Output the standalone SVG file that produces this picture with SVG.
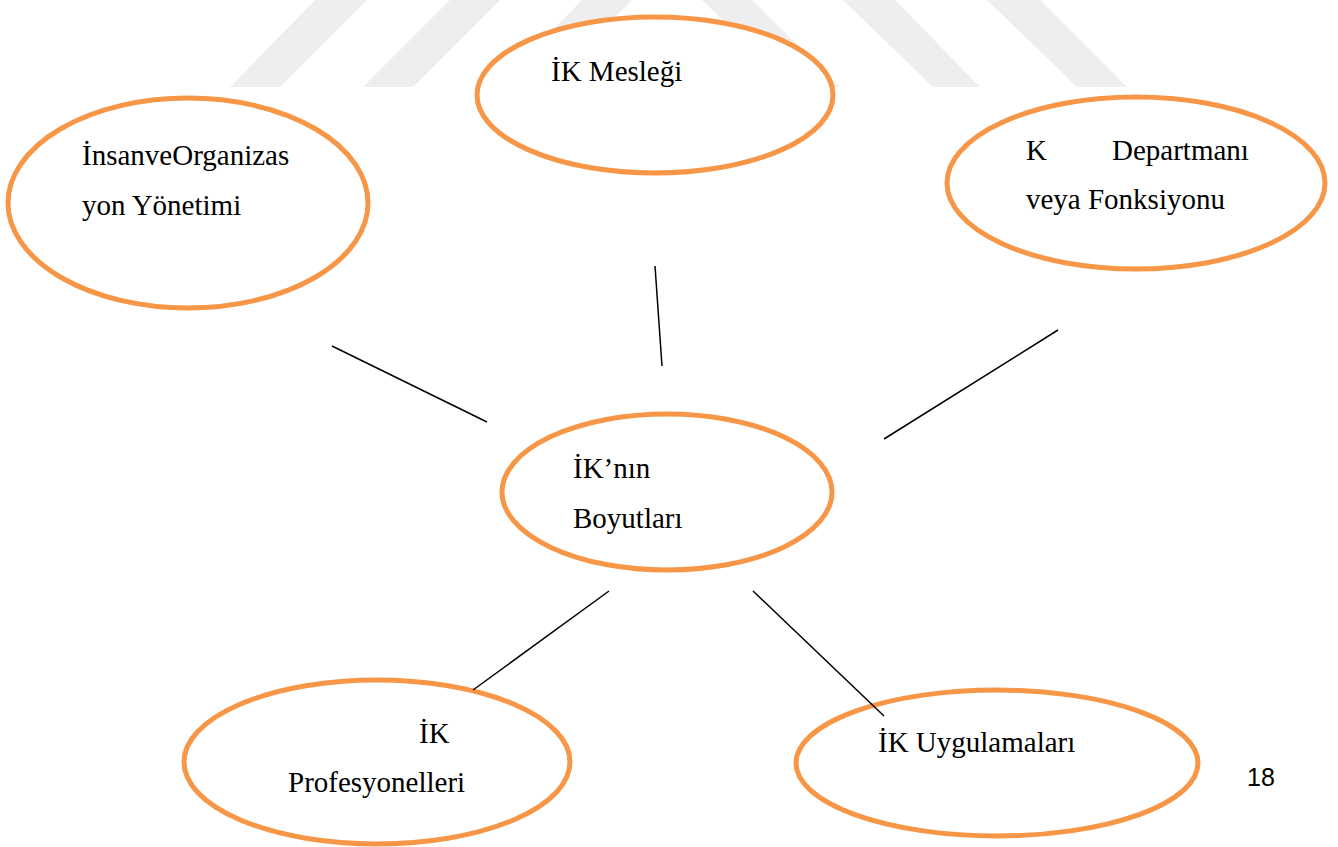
<svg xmlns="http://www.w3.org/2000/svg" width="1338" height="847" viewBox="0 0 1338 847">
<style>
.wm{fill:#eeeeee}
.node ellipse{fill:#ffffff;stroke:#F79646;stroke-width:5}
.node text{font-size:29px;fill:#000000}
.conn line{stroke:#000000;stroke-width:1.5}
</style>
<rect width="1338" height="847" fill="#ffffff"/>
<g id="watermark">
<polygon class="wm" points="315,0 367,0 280,87 230,87"/>
<polygon class="wm" points="450,0 500,0 413,87 363,87"/>
<polygon class="wm" points="582,0 632,0 547,87 497,87"/>
<polygon class="wm" points="702,0 752,0 840,87 790,87"/>
<polygon class="wm" points="843,0 895,0 980,87 933,87"/>
<polygon class="wm" points="987,0 1040,0 1127,87 1077,87"/>
</g>
<g font-family="'Liberation Serif', 'DejaVu Serif', serif">
<g class="node" id="n-insan">
<ellipse cx="188" cy="203" rx="180" ry="105"/>
<text x="82" y="165">İnsanveOrganizas</text>
<text x="82" y="215">yon Yönetimi</text>
</g>
<g class="node" id="n-meslek">
<ellipse cx="655" cy="95" rx="178" ry="78"/>
<text x="551" y="81">İK Mesleği</text>
</g>
<g class="node" id="n-departman">
<ellipse cx="1136" cy="183" rx="189" ry="86"/>
<text y="160"><tspan x="1026">K</tspan><tspan x="1112">Departmanı</tspan></text>
<text x="1026" y="209">veya Fonksiyonu</text>
</g>
<g class="node" id="n-boyut">
<ellipse cx="667" cy="492" rx="165" ry="78"/>
<text x="573" y="478">İK’nın</text>
<text x="573" y="528">Boyutları</text>
</g>
<g class="node" id="n-profesyonel">
<ellipse cx="377" cy="762" rx="193" ry="82"/>
<text x="419" y="743">İK</text>
<text x="288" y="792">Profesyonelleri</text>
</g>
<g class="node" id="n-uygulama">
<ellipse cx="997" cy="763" rx="201" ry="73"/>
<text x="878" y="752">İK Uygulamaları</text>
</g>
</g>
<g class="conn" id="connectors">
<line x1="332" y1="346" x2="487" y2="422"/>
<line x1="655" y1="266" x2="662" y2="366"/>
<line x1="1058" y1="330" x2="884" y2="439"/>
<line x1="609" y1="591" x2="473" y2="690"/>
<line x1="753" y1="591" x2="884" y2="716"/>
</g>
<text x="1247" y="786" font-family="'Liberation Sans', Arial, sans-serif" font-size="25" fill="#000000">18</text>
</svg>
